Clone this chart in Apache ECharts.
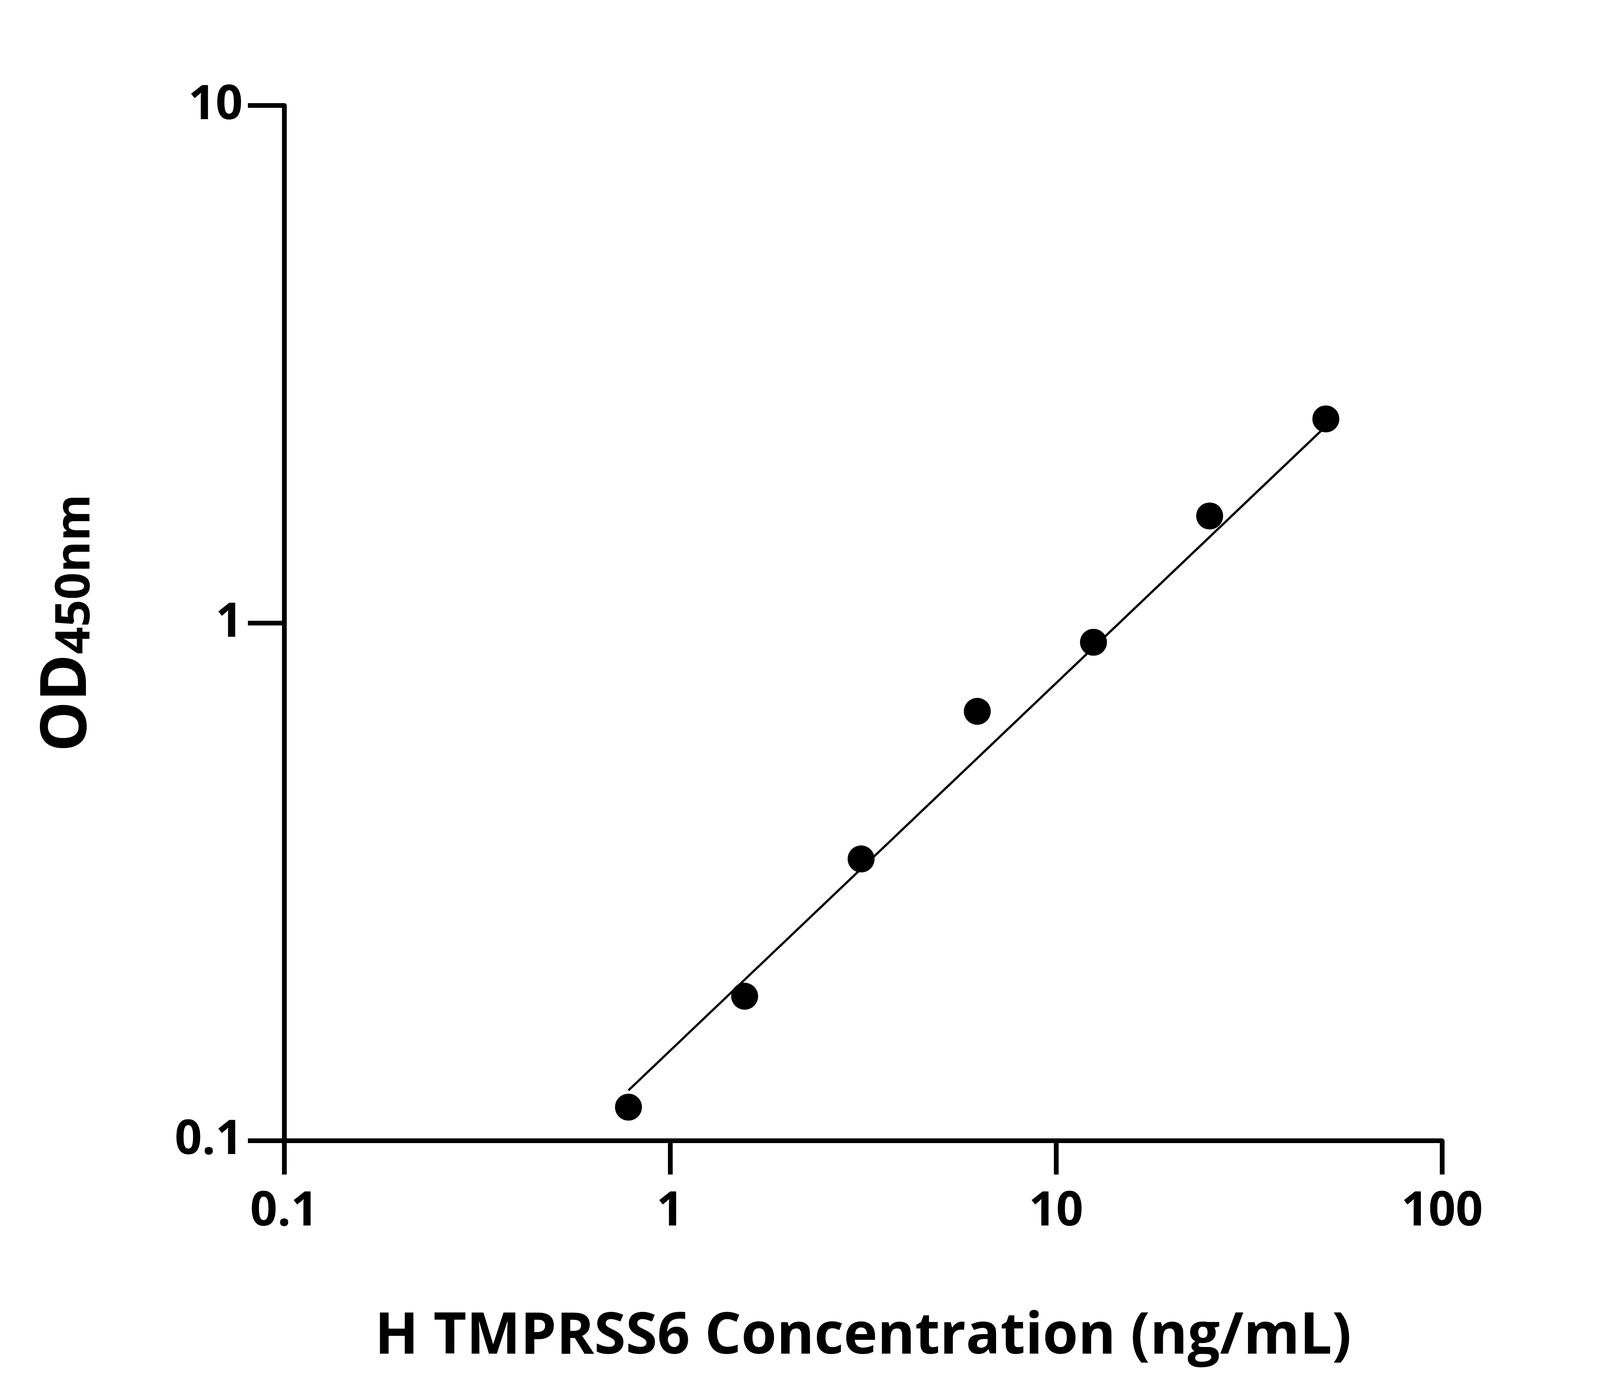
<!DOCTYPE html>
<html><head><meta charset="utf-8">
<script src="https://cdn.jsdelivr.net/npm/echarts@6/dist/echarts.min.js"></script>
<style>html,body{margin:0;background:#fff;overflow:hidden}#c{width:100vw;height:100vh}</style>
</head><body><div id="c"></div>
<script>
const concentrations = [0.78, 1.56, 3.125, 6.25, 12.5, 25, 50];
const odValues = [0.116, 0.19, 0.35, 0.675, 0.918, 1.61, 2.48];
const fitX = [0.78, 50];
const fitY = [0.125, 2.4];
const xTicks = ['0.1', '1', '10', '100'];
const yTicks = ['0.1', '1', '10'];
const fmt = v => (Math.abs(v - 0.1) < 1e-9 ? '0.1' : String(Math.round(v)));
const font = 'Open Sans';
const el = document.getElementById('c');
const s = el.clientWidth / 5034;
const chart = echarts.init(el);
chart.setOption({
  backgroundColor: '#fff',
  animation: false,
  grid: {left: 894 * s, right: (5034 - 4537) * s, top: 332 * s, bottom: (3576 - 2769) * s},
  xAxis: {
    type: 'log', logBase: 10, min: 0.1, max: 100,
    name: 'H TMPRSS6 Concentration (ng/mL)', nameLocation: 'middle', nameGap: 530 * s,
    nameTextStyle: {fontFamily: font, fontWeight: 'bold', fontSize: 180 * s, color: '#000'},
    axisLine: {lineStyle: {color: '#000', width: 15 * s}},
    axisTick: {length: 107 * s, lineStyle: {color: '#000', width: 15 * s}},
    minorTick: {show: false}, splitLine: {show: false},
    axisLabel: {margin: 150 * s, fontFamily: font, fontWeight: 'bold', fontSize: 150 * s, color: '#000',
      formatter: v => xTicks.includes(fmt(v)) ? fmt(v) : ''}
  },
  yAxis: {
    type: 'log', logBase: 10, min: 0.1, max: 10,
    name: '{a|OD}{b|450nm}', nameLocation: 'middle', nameGap: 580 * s,
    nameTextStyle: {rich: {
      a: {fontFamily: font, fontWeight: 'bold', fontSize: 200 * s, color: '#000'},
      b: {fontFamily: font, fontWeight: 'bold', fontSize: 150 * s, color: '#000', verticalAlign: 'bottom'}
    }},
    axisLine: {lineStyle: {color: '#000', width: 15 * s}},
    axisTick: {length: 114 * s, lineStyle: {color: '#000', width: 15 * s}},
    minorTick: {show: false}, splitLine: {show: false},
    axisLabel: {margin: 130 * s, fontFamily: font, fontWeight: 'bold', fontSize: 150 * s, color: '#000',
      formatter: v => yTicks.includes(fmt(v)) ? fmt(v) : ''}
  },
  series: [
    {type: 'line', data: fitX.map((x, i) => [x, fitY[i]]), showSymbol: false,
     lineStyle: {color: '#000', width: 7 * s}, z: 2},
    {type: 'scatter', data: concentrations.map((x, i) => [x, odValues[i]]),
     symbolSize: 85 * s, itemStyle: {color: '#000', opacity: 1}, z: 3}
  ]
});
</script></body></html>
